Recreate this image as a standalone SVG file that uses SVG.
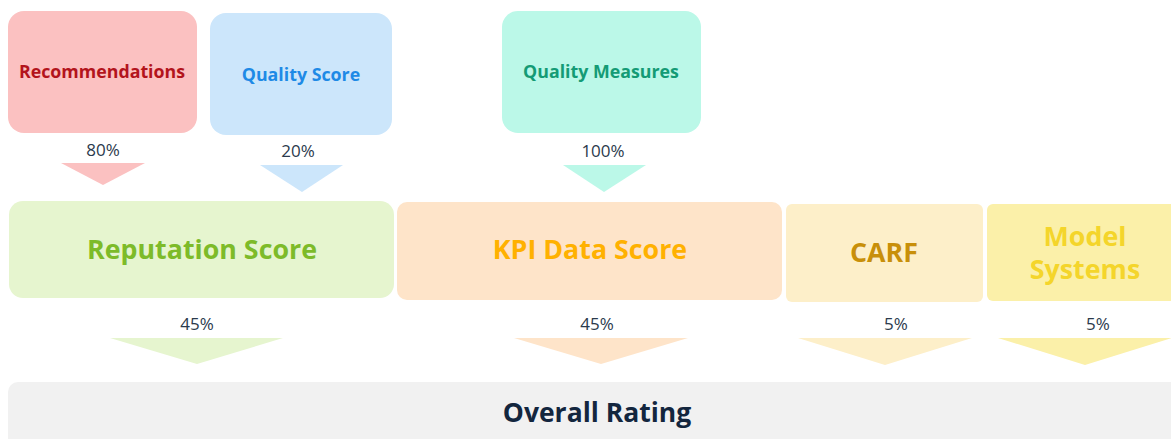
<svg xmlns="http://www.w3.org/2000/svg" width="1171" height="439" viewBox="0 0 1171 439">
<style>
.t{font-family:"Open Sans","Noto Sans",sans-serif;font-weight:700;text-anchor:middle;dominant-baseline:central}
.p{font-family:"Open Sans","Noto Sans",sans-serif;font-size:17px;fill:#2b3a4c;text-anchor:middle;dominant-baseline:central}
</style>
<rect width="1171" height="439" fill="#ffffff"/>
<g id="recommendations">
<rect x="8" y="11" width="189" height="122" rx="16" fill="#fbc1c1"/>
<text class="t" x="102" y="71" font-size="17.8" fill="#b3141c">Recommendations</text>
</g>
<g id="quality-score">
<rect x="210" y="13" width="182" height="122" rx="16" fill="#cce6fb"/>
<text class="t" x="301" y="74" font-size="17.8" fill="#1e8ae6">Quality Score</text>
</g>
<g id="quality-measures">
<rect x="502" y="11" width="199" height="122" rx="16" fill="#bbf8e8"/>
<text class="t" x="601" y="71" font-size="17.8" fill="#149b75">Quality Measures</text>
</g>
<g id="reputation-score">
<rect x="9" y="201" width="385" height="97" rx="14" fill="#e6f5cf"/>
<text class="t" x="202" y="248.5" font-size="26.8" fill="#7dbb29">Reputation Score</text>
</g>
<g id="kpi-data-score">
<rect x="397" y="202" width="385" height="98" rx="10" fill="#fee4c9"/>
<text class="t" x="590" y="248.5" font-size="26.8" fill="#ffb100">KPI Data Score</text>
</g>
<g id="carf">
<rect x="786" y="204" width="197" height="98" rx="6" fill="#fdefc9"/>
<text class="t" x="884" y="251" font-size="26.8" fill="#c88f0a">CARF</text>
</g>
<g id="model-systems">
<rect x="987" y="204" width="200" height="97" rx="6" fill="#fbf0a9"/>
<text class="t" x="1085" y="235" font-size="26.8" fill="#f4d52b">Model</text>
<text class="t" x="1085" y="268" font-size="26.8" fill="#f4d52b">Systems</text>
</g>
<g id="overall-rating">
<rect x="8" y="382" width="1180" height="70" rx="10" fill="#f1f1f1"/>
<text class="t" x="597" y="412" font-size="26.5" fill="#13263e">Overall Rating</text>
</g>
<g id="connectors">
<polygon points="61,163 145,163 103,185" fill="#fbc1c1"/>
<text class="p" x="103" y="149">80%</text>
<polygon points="260,165 343,165 302,192" fill="#cce6fb"/>
<text class="p" x="298" y="150">20%</text>
<polygon points="563,165 646,165 604,192" fill="#bbf8e8"/>
<text class="p" x="603" y="150">100%</text>
<polygon points="110,338 283,338 197,364" fill="#e6f5cf"/>
<text class="p" x="197" y="323">45%</text>
<polygon points="514,338 688,338 601,364" fill="#fee4c9"/>
<text class="p" x="597" y="323">45%</text>
<polygon points="798,338 972,338 885,365" fill="#fdefc9"/>
<text class="p" x="896" y="323">5%</text>
<polygon points="998,338 1172,338 1085,365" fill="#fbf0a9"/>
<text class="p" x="1098" y="323">5%</text>
</g>
</svg>
